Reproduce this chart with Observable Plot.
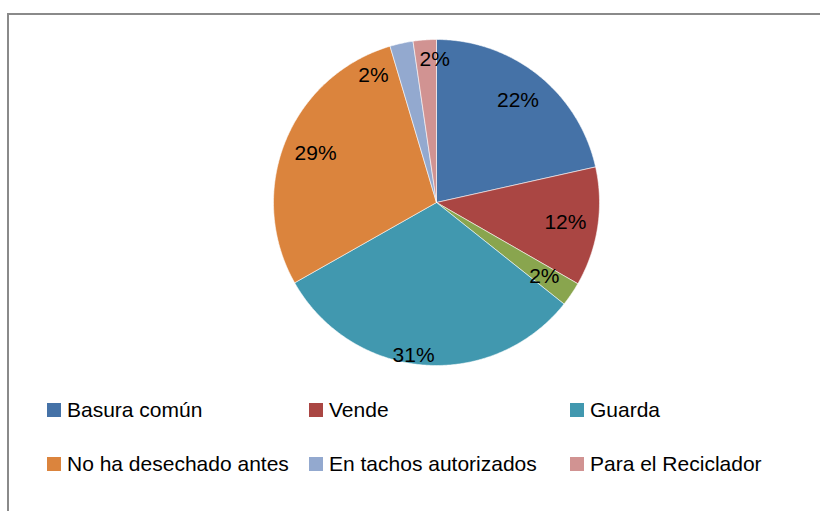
<!DOCTYPE html>
<html>
<head>
<meta charset="utf-8">
<script src="https://cdn.jsdelivr.net/npm/d3@7"></script>
<script src="https://cdn.jsdelivr.net/npm/@observablehq/plot@0.6"></script>
<style>
  html, body { margin: 0; padding: 0; background: #fff; }
  #chart { position: relative; width: 820px; height: 511px; overflow: hidden; font-family: "Liberation Sans", Arial, sans-serif; }
  #frame { position: absolute; left: 7px; top: 13px; width: 900px; height: 600px; border-left: 2px solid #8a8a8a; border-top: 2px solid #8a8a8a; box-sizing: border-box; }
  #plot { position: absolute; left: 0; top: 0; }
  #legend { position: absolute; left: 47px; top: 398px; display: grid; grid-template-columns: 262px 261px 250px; grid-auto-rows: 54px; }
  .item { font-size: 21px; color: #000; white-space: nowrap; line-height: 24px; }
  .sw { display: inline-block; width: 14px; height: 14px; margin-right: 6px; vertical-align: baseline; position: relative; top: 0px; }
</style>
</head>
<body>
<div id="chart">
  <div id="frame"></div>
  <div id="plot"></div>
  <div id="legend"></div>
</div>
<script>
// ---- data ----
const categories = ["Basura común", "Vende", "(sin leyenda)", "Guarda", "No ha desechado antes", "En tachos autorizados", "Para el Reciclador"];
const values = [21.5, 11.8, 2.4, 31.1, 28.6, 2.3, 2.3];
const colors = ["#4572A7", "#AA4643", "#89A54E", "#4198AF", "#DB843D", "#93A9CF", "#D19392"];
const legendItems = ["Basura común", "Vende", "Guarda", "No ha desechado antes", "En tachos autorizados", "Para el Reciclador"];

// ---- layout ----
const W = 820, H = 395;
const cx = 436, cy = 202, R = 163;
const labelR = 0.8;
const labelTweak = {3: {da: 4, r: 0.95}, 5: {da: -14, r: 0.87}, 6: {da: 3.4, r: 0.88}};

const arcs = d3.pie().sort(null).value(d => d)(values);
const total = d3.sum(values);

// polygon points for each slice
const pts = [];
arcs.forEach((a, i) => {
  const cat = categories[i];
  pts.push({cat, x: 0, y: 0});
  const n = Math.max(2, Math.ceil((a.endAngle - a.startAngle) / (Math.PI / 360)));
  for (let k = 0; k <= n; k++) {
    const t = a.startAngle + (a.endAngle - a.startAngle) * k / n;
    pts.push({cat, x: Math.sin(t), y: Math.cos(t)});
  }
  pts.push({cat, x: 0, y: 0});
});

const labels = arcs.map((a, i) => {
  const tw = labelTweak[i] || {da: 0, r: labelR};
  const t = (a.startAngle + a.endAngle) / 2 + tw.da * Math.PI / 180;
  return {x: tw.r * Math.sin(t), y: tw.r * Math.cos(t), text: Math.round(values[i] / total * 100) + "%"};
});

const plot = Plot.plot({
  width: W, height: H, margin: 0,
  x: {domain: [-1, 1], range: [cx - R, cx + R], axis: null},
  y: {domain: [-1, 1], range: [cy + R, cy - R], axis: null},
  color: {type: "ordinal", domain: categories, range: colors},
  style: {background: "transparent", overflow: "visible"},
  marks: [
    Plot.line(pts, {x: "x", y: "y", z: "cat", fill: "cat", stroke: "#ffffff", strokeWidth: 0.8, strokeOpacity: 0.7, curve: "linear"}),
    Plot.text(labels, {x: "x", y: "y", text: "text", fontSize: 21, fill: "#000", fontFamily: "Liberation Sans, Arial, sans-serif"})
  ]
});
document.getElementById("plot").appendChild(plot);

const leg = document.getElementById("legend");
legendItems.forEach(name => {
  const i = categories.indexOf(name);
  const d = document.createElement("div");
  d.className = "item";
  const s = document.createElement("span");
  s.className = "sw";
  s.style.background = colors[i];
  d.appendChild(s);
  d.appendChild(document.createTextNode(name));
  leg.appendChild(d);
});
</script>
</body>
</html>
